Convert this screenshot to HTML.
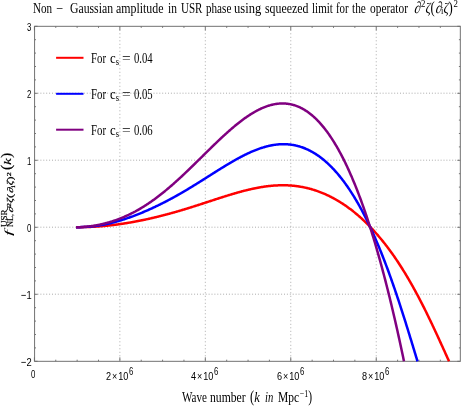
<!DOCTYPE html>
<html><head><meta charset="utf-8">
<style>
html,body{margin:0;padding:0;background:#fff;}
body{width:463px;height:409px;position:relative;overflow:hidden;font-family:"Liberation Serif",serif;color:#000;}
svg{position:absolute;left:0;top:0;}
.t{position:absolute;white-space:nowrap;line-height:1;transform-origin:0 0;}
.s{font-family:"Liberation Serif",serif;font-size:14.5px;}
.a{font-family:"Liberation Sans",sans-serif;font-size:11.7px;}
.a sup{font-size:10px;vertical-align:baseline;position:relative;top:-4.9px;margin-left:1px;}
i{font-style:italic;}
.s sup{font-size:10px;vertical-align:baseline;position:relative;top:-5.2px;margin-left:0.8px;}
.s sub{font-size:9.6px;vertical-align:baseline;position:relative;top:1.8px;}
.a .x{font-size:11.5px;margin:0 1.2px;position:relative;top:-0.2px;}
.yy{font-family:"Liberation Serif",serif;}
.yy .s2{font-size:0.72em;position:relative;top:-0.42em;}
.yy .s3{font-size:0.72em;position:relative;top:0.22em;}
.pr2{display:inline-block;transform:scaleY(1.2);transform-origin:50% 58%;}
.pd{display:inline-block;transform:scaleY(1.12) skewX(-10deg);transform-origin:50% 88%;}
.pd2{display:inline-block;transform:skewX(-10deg);transform-origin:50% 88%;}
.pr3{display:inline-block;transform:scaleY(1.12);transform-origin:50% 58%;}
.pr{display:inline-block;transform:scaleY(1.12);transform-origin:50% 55%;}
</style></head><body>
<svg width="463" height="409" viewBox="0 0 463 409">
<line x1="119.86" y1="26.3" x2="119.86" y2="361.3" stroke="#acacac" stroke-width="1" stroke-dasharray="1,2.5"/>
<line x1="205.32" y1="26.3" x2="205.32" y2="361.3" stroke="#acacac" stroke-width="1" stroke-dasharray="1,2.5"/>
<line x1="290.78" y1="26.3" x2="290.78" y2="361.3" stroke="#acacac" stroke-width="1" stroke-dasharray="1,2.5"/>
<line x1="376.24" y1="26.3" x2="376.24" y2="361.3" stroke="#acacac" stroke-width="1" stroke-dasharray="1,2.5"/>
<line x1="34.6" y1="93.20" x2="460.3" y2="93.20" stroke="#acacac" stroke-width="1" stroke-dasharray="1,1.9"/>
<line x1="34.6" y1="160.20" x2="460.3" y2="160.20" stroke="#acacac" stroke-width="1" stroke-dasharray="1,1.9"/>
<line x1="34.6" y1="227.20" x2="460.3" y2="227.20" stroke="#acacac" stroke-width="1" stroke-dasharray="1,1.9"/>
<line x1="34.6" y1="294.20" x2="460.3" y2="294.20" stroke="#acacac" stroke-width="1" stroke-dasharray="1,1.9"/>
<path d="M34.40,361.3 v-4.0 M34.40,26.3 v4.0 M55.77,361.3 v-1.6 M55.77,26.3 v1.6 M77.13,361.3 v-1.6 M77.13,26.3 v1.6 M98.50,361.3 v-1.6 M98.50,26.3 v1.6 M119.86,361.3 v-4.0 M119.86,26.3 v4.0 M141.22,361.3 v-1.6 M141.22,26.3 v1.6 M162.59,361.3 v-1.6 M162.59,26.3 v1.6 M183.95,361.3 v-1.6 M183.95,26.3 v1.6 M205.32,361.3 v-4.0 M205.32,26.3 v4.0 M226.69,361.3 v-1.6 M226.69,26.3 v1.6 M248.05,361.3 v-1.6 M248.05,26.3 v1.6 M269.41,361.3 v-1.6 M269.41,26.3 v1.6 M290.78,361.3 v-4.0 M290.78,26.3 v4.0 M312.14,361.3 v-1.6 M312.14,26.3 v1.6 M333.51,361.3 v-1.6 M333.51,26.3 v1.6 M354.87,361.3 v-1.6 M354.87,26.3 v1.6 M376.24,361.3 v-4.0 M376.24,26.3 v4.0 M397.60,361.3 v-1.6 M397.60,26.3 v1.6 M418.97,361.3 v-1.6 M418.97,26.3 v1.6 M440.33,361.3 v-1.6 M440.33,26.3 v1.6 M34.6,26.30 h3.0 M460.3,26.30 h-3.0 M34.6,39.70 h1.4 M460.3,39.70 h-1.4 M34.6,53.10 h1.4 M460.3,53.10 h-1.4 M34.6,66.50 h1.4 M460.3,66.50 h-1.4 M34.6,79.90 h1.4 M460.3,79.90 h-1.4 M34.6,93.30 h3.0 M460.3,93.30 h-3.0 M34.6,106.70 h1.4 M460.3,106.70 h-1.4 M34.6,120.10 h1.4 M460.3,120.10 h-1.4 M34.6,133.50 h1.4 M460.3,133.50 h-1.4 M34.6,146.90 h1.4 M460.3,146.90 h-1.4 M34.6,160.30 h3.0 M460.3,160.30 h-3.0 M34.6,173.70 h1.4 M460.3,173.70 h-1.4 M34.6,187.10 h1.4 M460.3,187.10 h-1.4 M34.6,200.50 h1.4 M460.3,200.50 h-1.4 M34.6,213.90 h1.4 M460.3,213.90 h-1.4 M34.6,227.30 h3.0 M460.3,227.30 h-3.0 M34.6,240.70 h1.4 M460.3,240.70 h-1.4 M34.6,254.10 h1.4 M460.3,254.10 h-1.4 M34.6,267.50 h1.4 M460.3,267.50 h-1.4 M34.6,280.90 h1.4 M460.3,280.90 h-1.4 M34.6,294.30 h3.0 M460.3,294.30 h-3.0 M34.6,307.70 h1.4 M460.3,307.70 h-1.4 M34.6,321.10 h1.4 M460.3,321.10 h-1.4 M34.6,334.50 h1.4 M460.3,334.50 h-1.4 M34.6,347.90 h1.4 M460.3,347.90 h-1.4 M34.6,361.30 h3.0 M460.3,361.30 h-3.0" stroke="#6a6a6a" stroke-width="0.9" fill="none"/>
<rect x="34.6" y="26.3" width="425.70" height="335.00" fill="none" stroke="#6a6a6a" stroke-width="0.95"/>
<path d="M75.98,227.20 L76.62,227.20 L77.26,227.20 L77.91,227.20 L78.55,227.19 L79.20,227.19 L79.84,227.18 L80.48,227.18 L81.13,227.17 L81.77,227.16 L82.42,227.15 L83.06,227.14 L83.70,227.12 L84.35,227.11 L84.99,227.09 L85.64,227.08 L86.28,227.06 L86.92,227.04 L87.57,227.02 L88.21,226.99 L88.86,226.97 L89.50,226.94 L90.14,226.92 L90.79,226.89 L91.43,226.86 L92.07,226.83 L92.72,226.80 L93.36,226.76 L94.01,226.73 L94.65,226.69 L95.29,226.65 L95.94,226.61 L96.58,226.57 L97.23,226.53 L97.87,226.48 L98.51,226.44 L99.16,226.39 L99.80,226.34 L100.45,226.29 L101.09,226.24 L101.73,226.18 L102.38,226.13 L103.02,226.07 L103.67,226.02 L104.31,225.96 L104.95,225.90 L105.60,225.84 L106.24,225.77 L106.89,225.71 L107.53,225.64 L108.17,225.57 L108.82,225.51 L109.46,225.44 L110.11,225.36 L110.75,225.29 L111.39,225.22 L112.04,225.14 L112.68,225.06 L113.33,224.99 L113.97,224.91 L114.61,224.83 L115.26,224.74 L115.90,224.66 L116.54,224.58 L117.19,224.49 L117.83,224.40 L118.48,224.31 L119.12,224.22 L119.76,224.13 L120.41,224.04 L121.05,223.95 L121.70,223.85 L122.34,223.76 L122.98,223.66 L123.63,223.56 L124.27,223.46 L124.92,223.36 L125.56,223.26 L126.20,223.15 L126.85,223.05 L127.49,222.94 L128.14,222.84 L128.78,222.73 L129.42,222.62 L130.07,222.51 L130.71,222.40 L131.36,222.28 L132.00,222.17 L132.64,222.06 L133.29,221.94 L133.93,221.82 L134.58,221.70 L135.22,221.58 L135.86,221.46 L136.51,221.34 L137.15,221.22 L137.80,221.09 L138.44,220.97 L139.08,220.84 L139.73,220.71 L140.37,220.59 L141.01,220.46 L141.66,220.33 L142.30,220.19 L142.95,220.06 L143.59,219.93 L144.23,219.79 L144.88,219.66 L145.52,219.52 L146.17,219.38 L146.81,219.24 L147.45,219.10 L148.10,218.96 L148.74,218.82 L149.39,218.67 L150.03,218.53 L150.67,218.38 L151.32,218.23 L151.96,218.09 L152.61,217.94 L153.25,217.79 L153.89,217.64 L154.54,217.48 L155.18,217.33 L155.83,217.18 L156.47,217.02 L157.11,216.87 L157.76,216.71 L158.40,216.55 L159.05,216.39 L159.69,216.23 L160.33,216.07 L160.98,215.91 L161.62,215.74 L162.27,215.58 L162.91,215.41 L163.55,215.25 L164.20,215.08 L164.84,214.91 L165.48,214.74 L166.13,214.57 L166.77,214.40 L167.42,214.23 L168.06,214.05 L168.70,213.88 L169.35,213.70 L169.99,213.53 L170.64,213.35 L171.28,213.17 L171.92,212.99 L172.57,212.81 L173.21,212.63 L173.86,212.45 L174.50,212.27 L175.14,212.09 L175.79,211.90 L176.43,211.72 L177.08,211.53 L177.72,211.34 L178.36,211.16 L179.01,210.97 L179.65,210.78 L180.30,210.59 L180.94,210.40 L181.58,210.20 L182.23,210.01 L182.87,209.82 L183.52,209.62 L184.16,209.43 L184.80,209.23 L185.45,209.04 L186.09,208.84 L186.74,208.64 L187.38,208.44 L188.02,208.25 L188.67,208.05 L189.31,207.85 L189.95,207.64 L190.60,207.44 L191.24,207.24 L191.89,207.04 L192.53,206.83 L193.17,206.63 L193.82,206.43 L194.46,206.22 L195.11,206.02 L195.75,205.81 L196.39,205.60 L197.04,205.40 L197.68,205.19 L198.33,204.98 L198.97,204.77 L199.61,204.57 L200.26,204.36 L200.90,204.15 L201.55,203.94 L202.19,203.73 L202.83,203.52 L203.48,203.31 L204.12,203.10 L204.77,202.89 L205.41,202.68 L206.05,202.47 L206.70,202.26 L207.34,202.05 L207.99,201.84 L208.63,201.63 L209.27,201.42 L209.92,201.20 L210.56,200.99 L211.20,200.78 L211.85,200.57 L212.49,200.36 L213.14,200.15 L213.78,199.94 L214.42,199.73 L215.07,199.52 L215.71,199.31 L216.36,199.10 L217.00,198.89 L217.64,198.69 L218.29,198.48 L218.93,198.27 L219.58,198.06 L220.22,197.86 L220.86,197.65 L221.51,197.44 L222.15,197.24 L222.80,197.03 L223.44,196.83 L224.08,196.63 L224.73,196.42 L225.37,196.22 L226.02,196.02 L226.66,195.82 L227.30,195.62 L227.95,195.42 L228.59,195.22 L229.24,195.03 L229.88,194.83 L230.52,194.64 L231.17,194.44 L231.81,194.25 L232.46,194.06 L233.10,193.87 L233.74,193.68 L234.39,193.49 L235.03,193.30 L235.67,193.12 L236.32,192.93 L236.96,192.75 L237.61,192.57 L238.25,192.38 L238.89,192.21 L239.54,192.03 L240.18,191.85 L240.83,191.68 L241.47,191.50 L242.11,191.33 L242.76,191.16 L243.40,190.99 L244.05,190.83 L244.69,190.66 L245.33,190.50 L245.98,190.34 L246.62,190.18 L247.27,190.02 L247.91,189.87 L248.55,189.71 L249.20,189.56 L249.84,189.41 L250.49,189.26 L251.13,189.12 L251.77,188.98 L252.42,188.83 L253.06,188.70 L253.71,188.56 L254.35,188.42 L254.99,188.29 L255.64,188.16 L256.28,188.04 L256.93,187.91 L257.57,187.79 L258.21,187.67 L258.86,187.55 L259.50,187.43 L260.14,187.32 L260.79,187.21 L261.43,187.11 L262.08,187.00 L262.72,186.90 L263.36,186.80 L264.01,186.70 L264.65,186.61 L265.30,186.52 L265.94,186.43 L266.58,186.35 L267.23,186.26 L267.87,186.19 L268.52,186.11 L269.16,186.04 L269.80,185.97 L270.45,185.90 L271.09,185.84 L271.74,185.78 L272.38,185.72 L273.02,185.66 L273.67,185.61 L274.31,185.56 L274.96,185.52 L275.60,185.48 L276.24,185.44 L276.89,185.41 L277.53,185.38 L278.18,185.35 L278.82,185.32 L279.46,185.30 L280.11,185.29 L280.75,185.27 L281.40,185.26 L282.04,185.26 L282.68,185.25 L283.33,185.26 L283.97,185.26 L284.61,185.27 L285.26,185.28 L285.90,185.30 L286.55,185.32 L287.19,185.34 L287.83,185.37 L288.48,185.40 L289.12,185.43 L289.77,185.47 L290.41,185.51 L291.05,185.56 L291.70,185.61 L292.34,185.67 L292.99,185.72 L293.63,185.79 L294.27,185.85 L294.92,185.92 L295.56,186.00 L296.21,186.08 L296.85,186.16 L297.49,186.25 L298.14,186.34 L298.78,186.44 L299.43,186.54 L300.07,186.64 L300.71,186.75 L301.36,186.86 L302.00,186.98 L302.65,187.10 L303.29,187.22 L303.93,187.35 L304.58,187.49 L305.22,187.63 L305.87,187.77 L306.51,187.92 L307.15,188.07 L307.80,188.23 L308.44,188.39 L309.08,188.55 L309.73,188.72 L310.37,188.89 L311.02,189.07 L311.66,189.26 L312.30,189.44 L312.95,189.64 L313.59,189.83 L314.24,190.03 L314.88,190.24 L315.52,190.45 L316.17,190.67 L316.81,190.89 L317.46,191.11 L318.10,191.34 L318.74,191.58 L319.39,191.81 L320.03,192.06 L320.68,192.31 L321.32,192.56 L321.96,192.82 L322.61,193.08 L323.25,193.35 L323.90,193.62 L324.54,193.90 L325.18,194.18 L325.83,194.46 L326.47,194.76 L327.12,195.05 L327.76,195.35 L328.40,195.66 L329.05,195.97 L329.69,196.29 L330.33,196.61 L330.98,196.94 L331.62,197.27 L332.27,197.60 L332.91,197.94 L333.55,198.29 L334.20,198.64 L334.84,199.00 L335.49,199.36 L336.13,199.73 L336.77,200.10 L337.42,200.47 L338.06,200.86 L338.71,201.24 L339.35,201.64 L339.99,202.03 L340.64,202.44 L341.28,202.84 L341.93,203.26 L342.57,203.67 L343.21,204.10 L343.86,204.53 L344.50,204.96 L345.15,205.40 L345.79,205.85 L346.43,206.30 L347.08,206.75 L347.72,207.21 L348.37,207.68 L349.01,208.15 L349.65,208.63 L350.30,209.11 L350.94,209.60 L351.59,210.10 L352.23,210.60 L352.87,211.10 L353.52,211.61 L354.16,212.13 L354.80,212.65 L355.45,213.18 L356.09,213.71 L356.74,214.25 L357.38,214.80 L358.02,215.35 L358.67,215.90 L359.31,216.47 L359.96,217.03 L360.60,217.61 L361.24,218.19 L361.89,218.77 L362.53,219.37 L363.18,219.96 L363.82,220.57 L364.46,221.18 L365.11,221.79 L365.75,222.42 L366.40,223.04 L367.04,223.68 L367.68,224.32 L368.33,224.97 L368.97,225.62 L369.62,226.28 L370.26,226.94 L370.90,227.62 L371.55,228.30 L372.19,228.98 L372.84,229.67 L373.48,230.37 L374.12,231.07 L374.77,231.78 L375.41,232.50 L376.06,233.23 L376.70,233.96 L377.34,234.69 L377.99,235.44 L378.63,236.19 L379.27,236.95 L379.92,237.71 L380.56,238.48 L381.21,239.26 L381.85,240.05 L382.49,240.84 L383.14,241.64 L383.78,242.44 L384.43,243.26 L385.07,244.08 L385.71,244.90 L386.36,245.74 L387.00,246.58 L387.65,247.43 L388.29,248.29 L388.93,249.15 L389.58,250.02 L390.22,250.90 L390.87,251.78 L391.51,252.68 L392.15,253.58 L392.80,254.49 L393.44,255.40 L394.09,256.32 L394.73,257.25 L395.37,258.19 L396.02,259.14 L396.66,260.09 L397.31,261.05 L397.95,262.02 L398.59,263.00 L399.24,263.98 L399.88,264.97 L400.53,265.97 L401.17,266.98 L401.81,268.00 L402.46,269.02 L403.10,270.05 L403.74,271.09 L404.39,272.14 L405.03,273.19 L405.68,274.25 L406.32,275.32 L406.96,276.40 L407.61,277.49 L408.25,278.58 L408.90,279.68 L409.54,280.79 L410.18,281.91 L410.83,283.04 L411.47,284.17 L412.12,285.31 L412.76,286.46 L413.40,287.62 L414.05,288.78 L414.69,289.95 L415.34,291.13 L415.98,292.32 L416.62,293.51 L417.27,294.72 L417.91,295.93 L418.56,297.15 L419.20,298.37 L419.84,299.60 L420.49,300.84 L421.13,302.09 L421.78,303.35 L422.42,304.61 L423.06,305.88 L423.71,307.15 L424.35,308.43 L425.00,309.72 L425.64,311.02 L426.28,312.32 L426.93,313.63 L427.57,314.95 L428.21,316.27 L428.86,317.60 L429.50,318.93 L430.15,320.27 L430.79,321.62 L431.43,322.97 L432.08,324.32 L432.72,325.69 L433.37,327.05 L434.01,328.42 L434.65,329.80 L435.30,331.18 L435.94,332.57 L436.59,333.96 L437.23,335.35 L437.87,336.75 L438.52,338.15 L439.16,339.55 L439.81,340.96 L440.45,342.36 L441.09,343.78 L441.74,345.19 L442.38,346.60 L443.03,348.02 L443.67,349.44 L444.31,350.86 L444.96,352.27 L445.60,353.69 L446.25,355.11 L446.89,356.53 L447.53,357.95 L448.18,359.36 L448.82,360.78 L449.06,361.30" stroke="#ff0000" stroke-width="2.5" fill="none" stroke-linejoin="round"/>
<path d="M75.98,227.20 L76.62,227.20 L77.26,227.20 L77.91,227.19 L78.55,227.18 L79.20,227.18 L79.84,227.16 L80.48,227.15 L81.13,227.13 L81.77,227.11 L82.42,227.09 L83.06,227.07 L83.70,227.04 L84.35,227.01 L84.99,226.98 L85.64,226.94 L86.28,226.90 L86.92,226.86 L87.57,226.82 L88.21,226.77 L88.86,226.72 L89.50,226.66 L90.14,226.61 L90.79,226.55 L91.43,226.48 L92.07,226.41 L92.72,226.34 L93.36,226.27 L94.01,226.19 L94.65,226.12 L95.29,226.03 L95.94,225.95 L96.58,225.86 L97.23,225.76 L97.87,225.67 L98.51,225.57 L99.16,225.47 L99.80,225.36 L100.45,225.25 L101.09,225.14 L101.73,225.03 L102.38,224.91 L103.02,224.79 L103.67,224.67 L104.31,224.54 L104.95,224.41 L105.60,224.28 L106.24,224.14 L106.89,224.00 L107.53,223.86 L108.17,223.72 L108.82,223.57 L109.46,223.42 L110.11,223.27 L110.75,223.11 L111.39,222.95 L112.04,222.79 L112.68,222.63 L113.33,222.46 L113.97,222.29 L114.61,222.12 L115.26,221.95 L115.90,221.77 L116.54,221.59 L117.19,221.41 L117.83,221.22 L118.48,221.03 L119.12,220.84 L119.76,220.65 L120.41,220.46 L121.05,220.26 L121.70,220.06 L122.34,219.86 L122.98,219.65 L123.63,219.45 L124.27,219.24 L124.92,219.03 L125.56,218.82 L126.20,218.60 L126.85,218.38 L127.49,218.16 L128.14,217.94 L128.78,217.72 L129.42,217.49 L130.07,217.26 L130.71,217.03 L131.36,216.80 L132.00,216.56 L132.64,216.32 L133.29,216.09 L133.93,215.84 L134.58,215.60 L135.22,215.36 L135.86,215.11 L136.51,214.86 L137.15,214.61 L137.80,214.36 L138.44,214.10 L139.08,213.84 L139.73,213.58 L140.37,213.32 L141.01,213.06 L141.66,212.80 L142.30,212.53 L142.95,212.26 L143.59,211.99 L144.23,211.72 L144.88,211.44 L145.52,211.17 L146.17,210.89 L146.81,210.61 L147.45,210.33 L148.10,210.04 L148.74,209.76 L149.39,209.47 L150.03,209.18 L150.67,208.89 L151.32,208.60 L151.96,208.30 L152.61,208.00 L153.25,207.71 L153.89,207.41 L154.54,207.10 L155.18,206.80 L155.83,206.49 L156.47,206.19 L157.11,205.88 L157.76,205.57 L158.40,205.25 L159.05,204.94 L159.69,204.62 L160.33,204.30 L160.98,203.98 L161.62,203.66 L162.27,203.34 L162.91,203.01 L163.55,202.69 L164.20,202.36 L164.84,202.03 L165.48,201.70 L166.13,201.36 L166.77,201.03 L167.42,200.69 L168.06,200.35 L168.70,200.01 L169.35,199.67 L169.99,199.32 L170.64,198.98 L171.28,198.63 L171.92,198.28 L172.57,197.93 L173.21,197.58 L173.86,197.22 L174.50,196.87 L175.14,196.51 L175.79,196.15 L176.43,195.79 L177.08,195.43 L177.72,195.07 L178.36,194.70 L179.01,194.34 L179.65,193.97 L180.30,193.60 L180.94,193.23 L181.58,192.86 L182.23,192.48 L182.87,192.11 L183.52,191.73 L184.16,191.35 L184.80,190.97 L185.45,190.59 L186.09,190.21 L186.74,189.83 L187.38,189.45 L188.02,189.06 L188.67,188.67 L189.31,188.29 L189.95,187.90 L190.60,187.51 L191.24,187.11 L191.89,186.72 L192.53,186.33 L193.17,185.93 L193.82,185.54 L194.46,185.14 L195.11,184.75 L195.75,184.35 L196.39,183.95 L197.04,183.55 L197.68,183.15 L198.33,182.75 L198.97,182.35 L199.61,181.94 L200.26,181.54 L200.90,181.14 L201.55,180.73 L202.19,180.33 L202.83,179.92 L203.48,179.51 L204.12,179.11 L204.77,178.70 L205.41,178.29 L206.05,177.89 L206.70,177.48 L207.34,177.07 L207.99,176.66 L208.63,176.26 L209.27,175.85 L209.92,175.44 L210.56,175.03 L211.20,174.62 L211.85,174.22 L212.49,173.81 L213.14,173.40 L213.78,173.00 L214.42,172.59 L215.07,172.18 L215.71,171.78 L216.36,171.37 L217.00,170.97 L217.64,170.56 L218.29,170.16 L218.93,169.76 L219.58,169.36 L220.22,168.96 L220.86,168.56 L221.51,168.16 L222.15,167.76 L222.80,167.36 L223.44,166.97 L224.08,166.57 L224.73,166.18 L225.37,165.79 L226.02,165.40 L226.66,165.01 L227.30,164.62 L227.95,164.23 L228.59,163.85 L229.24,163.47 L229.88,163.09 L230.52,162.71 L231.17,162.33 L231.81,161.96 L232.46,161.58 L233.10,161.21 L233.74,160.84 L234.39,160.48 L235.03,160.11 L235.67,159.75 L236.32,159.39 L236.96,159.03 L237.61,158.68 L238.25,158.33 L238.89,157.98 L239.54,157.63 L240.18,157.29 L240.83,156.95 L241.47,156.61 L242.11,156.28 L242.76,155.94 L243.40,155.62 L244.05,155.29 L244.69,154.97 L245.33,154.65 L245.98,154.34 L246.62,154.02 L247.27,153.72 L247.91,153.41 L248.55,153.11 L249.20,152.81 L249.84,152.52 L250.49,152.23 L251.13,151.95 L251.77,151.67 L252.42,151.39 L253.06,151.12 L253.71,150.85 L254.35,150.58 L254.99,150.32 L255.64,150.07 L256.28,149.82 L256.93,149.57 L257.57,149.33 L258.21,149.09 L258.86,148.86 L259.50,148.63 L260.14,148.41 L260.79,148.19 L261.43,147.98 L262.08,147.77 L262.72,147.57 L263.36,147.37 L264.01,147.18 L264.65,146.99 L265.30,146.81 L265.94,146.64 L266.58,146.47 L267.23,146.30 L267.87,146.14 L268.52,145.99 L269.16,145.84 L269.80,145.70 L270.45,145.57 L271.09,145.44 L271.74,145.31 L272.38,145.20 L273.02,145.08 L273.67,144.98 L274.31,144.88 L274.96,144.79 L275.60,144.70 L276.24,144.62 L276.89,144.55 L277.53,144.48 L278.18,144.42 L278.82,144.37 L279.46,144.32 L280.11,144.28 L280.75,144.25 L281.40,144.22 L282.04,144.20 L282.68,144.19 L283.33,144.18 L283.97,144.18 L284.61,144.19 L285.26,144.21 L285.90,144.23 L286.55,144.26 L287.19,144.30 L287.83,144.35 L288.48,144.40 L289.12,144.46 L289.77,144.53 L290.41,144.60 L291.05,144.68 L291.70,144.77 L292.34,144.87 L292.99,144.98 L293.63,145.09 L294.27,145.21 L294.92,145.34 L295.56,145.48 L296.21,145.62 L296.85,145.78 L297.49,145.94 L298.14,146.11 L298.78,146.29 L299.43,146.47 L300.07,146.67 L300.71,146.87 L301.36,147.08 L302.00,147.30 L302.65,147.53 L303.29,147.76 L303.93,148.01 L304.58,148.26 L305.22,148.52 L305.87,148.79 L306.51,149.07 L307.15,149.36 L307.80,149.66 L308.44,149.96 L309.08,150.28 L309.73,150.60 L310.37,150.93 L311.02,151.28 L311.66,151.63 L312.30,151.99 L312.95,152.35 L313.59,152.73 L314.24,153.12 L314.88,153.52 L315.52,153.92 L316.17,154.34 L316.81,154.76 L317.46,155.19 L318.10,155.64 L318.74,156.09 L319.39,156.55 L320.03,157.02 L320.68,157.50 L321.32,157.99 L321.96,158.50 L322.61,159.01 L323.25,159.53 L323.90,160.06 L324.54,160.60 L325.18,161.15 L325.83,161.71 L326.47,162.28 L327.12,162.86 L327.76,163.45 L328.40,164.05 L329.05,164.66 L329.69,165.28 L330.33,165.91 L330.98,166.55 L331.62,167.20 L332.27,167.86 L332.91,168.54 L333.55,169.22 L334.20,169.91 L334.84,170.62 L335.49,171.33 L336.13,172.06 L336.77,172.79 L337.42,173.54 L338.06,174.30 L338.71,175.07 L339.35,175.85 L339.99,176.64 L340.64,177.44 L341.28,178.25 L341.93,179.08 L342.57,179.91 L343.21,180.76 L343.86,181.62 L344.50,182.49 L345.15,183.37 L345.79,184.26 L346.43,185.17 L347.08,186.08 L347.72,187.01 L348.37,187.95 L349.01,188.90 L349.65,189.86 L350.30,190.84 L350.94,191.83 L351.59,192.82 L352.23,193.83 L352.87,194.86 L353.52,195.89 L354.16,196.94 L354.80,198.00 L355.45,199.07 L356.09,200.15 L356.74,201.25 L357.38,202.36 L358.02,203.48 L358.67,204.61 L359.31,205.76 L359.96,206.92 L360.60,208.09 L361.24,209.28 L361.89,210.47 L362.53,211.69 L363.18,212.91 L363.82,214.15 L364.46,215.39 L365.11,216.66 L365.75,217.93 L366.40,219.22 L367.04,220.52 L367.68,221.84 L368.33,223.17 L368.97,224.51 L369.62,225.86 L370.26,227.23 L370.90,228.61 L371.55,230.01 L372.19,231.42 L372.84,232.84 L373.48,234.28 L374.12,235.73 L374.77,237.19 L375.41,238.66 L376.06,240.15 L376.70,241.66 L377.34,243.18 L377.99,244.71 L378.63,246.25 L379.27,247.81 L379.92,249.38 L380.56,250.97 L381.21,252.57 L381.85,254.18 L382.49,255.80 L383.14,257.44 L383.78,259.10 L384.43,260.76 L385.07,262.44 L385.71,264.14 L386.36,265.84 L387.00,267.56 L387.65,269.30 L388.29,271.04 L388.93,272.80 L389.58,274.58 L390.22,276.36 L390.87,278.16 L391.51,279.97 L392.15,281.79 L392.80,283.63 L393.44,285.48 L394.09,287.34 L394.73,289.21 L395.37,291.10 L396.02,292.99 L396.66,294.90 L397.31,296.82 L397.95,298.75 L398.59,300.70 L399.24,302.65 L399.88,304.61 L400.53,306.59 L401.17,308.57 L401.81,310.57 L402.46,312.57 L403.10,314.58 L403.74,316.61 L404.39,318.64 L405.03,320.68 L405.68,322.73 L406.32,324.79 L406.96,326.85 L407.61,328.92 L408.25,331.00 L408.90,333.08 L409.54,335.17 L410.18,337.27 L410.83,339.37 L411.47,341.48 L412.12,343.59 L412.76,345.70 L413.40,347.82 L414.05,349.94 L414.69,352.06 L415.34,354.18 L415.98,356.31 L416.62,358.43 L417.27,360.55 L417.49,361.30" stroke="#0000ff" stroke-width="2.5" fill="none" stroke-linejoin="round"/>
<path d="M75.98,227.20 L76.62,227.20 L77.26,227.19 L77.91,227.18 L78.55,227.17 L79.20,227.15 L79.84,227.13 L80.48,227.10 L81.13,227.07 L81.77,227.04 L82.42,227.00 L83.06,226.96 L83.70,226.91 L84.35,226.86 L84.99,226.81 L85.64,226.75 L86.28,226.69 L86.92,226.63 L87.57,226.56 L88.21,226.49 L88.86,226.42 L89.50,226.34 L90.14,226.26 L90.79,226.17 L91.43,226.08 L92.07,225.99 L92.72,225.90 L93.36,225.80 L94.01,225.69 L94.65,225.59 L95.29,225.48 L95.94,225.37 L96.58,225.25 L97.23,225.13 L97.87,225.01 L98.51,224.88 L99.16,224.75 L99.80,224.61 L100.45,224.48 L101.09,224.34 L101.73,224.19 L102.38,224.04 L103.02,223.89 L103.67,223.74 L104.31,223.58 L104.95,223.42 L105.60,223.25 L106.24,223.08 L106.89,222.91 L107.53,222.73 L108.17,222.55 L108.82,222.37 L109.46,222.18 L110.11,221.99 L110.75,221.79 L111.39,221.59 L112.04,221.39 L112.68,221.18 L113.33,220.97 L113.97,220.76 L114.61,220.54 L115.26,220.32 L115.90,220.09 L116.54,219.86 L117.19,219.63 L117.83,219.39 L118.48,219.15 L119.12,218.91 L119.76,218.66 L120.41,218.40 L121.05,218.15 L121.70,217.89 L122.34,217.62 L122.98,217.35 L123.63,217.08 L124.27,216.80 L124.92,216.52 L125.56,216.24 L126.20,215.95 L126.85,215.66 L127.49,215.36 L128.14,215.06 L128.78,214.75 L129.42,214.44 L130.07,214.13 L130.71,213.81 L131.36,213.49 L132.00,213.17 L132.64,212.84 L133.29,212.50 L133.93,212.16 L134.58,211.82 L135.22,211.48 L135.86,211.12 L136.51,210.77 L137.15,210.41 L137.80,210.05 L138.44,209.68 L139.08,209.31 L139.73,208.94 L140.37,208.56 L141.01,208.17 L141.66,207.78 L142.30,207.39 L142.95,207.00 L143.59,206.60 L144.23,206.19 L144.88,205.78 L145.52,205.37 L146.17,204.96 L146.81,204.54 L147.45,204.11 L148.10,203.68 L148.74,203.25 L149.39,202.81 L150.03,202.37 L150.67,201.93 L151.32,201.48 L151.96,201.03 L152.61,200.57 L153.25,200.11 L153.89,199.65 L154.54,199.18 L155.18,198.71 L155.83,198.23 L156.47,197.75 L157.11,197.27 L157.76,196.78 L158.40,196.29 L159.05,195.80 L159.69,195.30 L160.33,194.80 L160.98,194.30 L161.62,193.79 L162.27,193.28 L162.91,192.76 L163.55,192.24 L164.20,191.72 L164.84,191.19 L165.48,190.66 L166.13,190.13 L166.77,189.60 L167.42,189.06 L168.06,188.51 L168.70,187.97 L169.35,187.42 L169.99,186.87 L170.64,186.31 L171.28,185.76 L171.92,185.20 L172.57,184.63 L173.21,184.07 L173.86,183.50 L174.50,182.93 L175.14,182.35 L175.79,181.77 L176.43,181.19 L177.08,180.61 L177.72,180.03 L178.36,179.44 L179.01,178.85 L179.65,178.26 L180.30,177.66 L180.94,177.07 L181.58,176.47 L182.23,175.87 L182.87,175.26 L183.52,174.66 L184.16,174.05 L184.80,173.44 L185.45,172.83 L186.09,172.22 L186.74,171.61 L187.38,170.99 L188.02,170.37 L188.67,169.75 L189.31,169.13 L189.95,168.51 L190.60,167.89 L191.24,167.26 L191.89,166.64 L192.53,166.01 L193.17,165.38 L193.82,164.75 L194.46,164.12 L195.11,163.49 L195.75,162.86 L196.39,162.23 L197.04,161.59 L197.68,160.96 L198.33,160.33 L198.97,159.69 L199.61,159.06 L200.26,158.42 L200.90,157.79 L201.55,157.15 L202.19,156.52 L202.83,155.88 L203.48,155.24 L204.12,154.61 L204.77,153.97 L205.41,153.34 L206.05,152.70 L206.70,152.07 L207.34,151.44 L207.99,150.80 L208.63,150.17 L209.27,149.54 L209.92,148.91 L210.56,148.28 L211.20,147.65 L211.85,147.02 L212.49,146.39 L213.14,145.77 L213.78,145.14 L214.42,144.52 L215.07,143.90 L215.71,143.28 L216.36,142.66 L217.00,142.05 L217.64,141.43 L218.29,140.82 L218.93,140.21 L219.58,139.60 L220.22,138.99 L220.86,138.39 L221.51,137.79 L222.15,137.19 L222.80,136.59 L223.44,135.99 L224.08,135.40 L224.73,134.81 L225.37,134.23 L226.02,133.64 L226.66,133.06 L227.30,132.48 L227.95,131.91 L228.59,131.34 L229.24,130.77 L229.88,130.21 L230.52,129.64 L231.17,129.09 L231.81,128.53 L232.46,127.98 L233.10,127.44 L233.74,126.89 L234.39,126.35 L235.03,125.82 L235.67,125.29 L236.32,124.76 L236.96,124.24 L237.61,123.72 L238.25,123.21 L238.89,122.70 L239.54,122.20 L240.18,121.70 L240.83,121.21 L241.47,120.72 L242.11,120.23 L242.76,119.75 L243.40,119.28 L244.05,118.81 L244.69,118.35 L245.33,117.89 L245.98,117.44 L246.62,116.99 L247.27,116.55 L247.91,116.11 L248.55,115.69 L249.20,115.26 L249.84,114.84 L250.49,114.43 L251.13,114.03 L251.77,113.63 L252.42,113.24 L253.06,112.85 L253.71,112.47 L254.35,112.10 L254.99,111.73 L255.64,111.37 L256.28,111.02 L256.93,110.67 L257.57,110.33 L258.21,110.00 L258.86,109.68 L259.50,109.36 L260.14,109.05 L260.79,108.75 L261.43,108.45 L262.08,108.17 L262.72,107.89 L263.36,107.61 L264.01,107.35 L264.65,107.09 L265.30,106.85 L265.94,106.61 L266.58,106.37 L267.23,106.15 L267.87,105.93 L268.52,105.73 L269.16,105.53 L269.80,105.34 L270.45,105.16 L271.09,104.98 L271.74,104.82 L272.38,104.67 L273.02,104.52 L273.67,104.38 L274.31,104.25 L274.96,104.14 L275.60,104.03 L276.24,103.93 L276.89,103.84 L277.53,103.75 L278.18,103.68 L278.82,103.62 L279.46,103.57 L280.11,103.53 L280.75,103.49 L281.40,103.47 L282.04,103.46 L282.68,103.46 L283.33,103.46 L283.97,103.48 L284.61,103.51 L285.26,103.55 L285.90,103.60 L286.55,103.66 L287.19,103.73 L287.83,103.81 L288.48,103.90 L289.12,104.00 L289.77,104.12 L290.41,104.24 L291.05,104.38 L291.70,104.53 L292.34,104.68 L292.99,104.85 L293.63,105.03 L294.27,105.23 L294.92,105.43 L295.56,105.65 L296.21,105.87 L296.85,106.11 L297.49,106.36 L298.14,106.62 L298.78,106.90 L299.43,107.19 L300.07,107.48 L300.71,107.79 L301.36,108.12 L302.00,108.45 L302.65,108.80 L303.29,109.16 L303.93,109.53 L304.58,109.92 L305.22,110.32 L305.87,110.73 L306.51,111.15 L307.15,111.59 L307.80,112.03 L308.44,112.50 L309.08,112.97 L309.73,113.46 L310.37,113.96 L311.02,114.48 L311.66,115.00 L312.30,115.55 L312.95,116.10 L313.59,116.67 L314.24,117.25 L314.88,117.85 L315.52,118.46 L316.17,119.08 L316.81,119.72 L317.46,120.37 L318.10,121.03 L318.74,121.71 L319.39,122.41 L320.03,123.11 L320.68,123.84 L321.32,124.57 L321.96,125.32 L322.61,126.09 L323.25,126.87 L323.90,127.66 L324.54,128.47 L325.18,129.30 L325.83,130.14 L326.47,130.99 L327.12,131.86 L327.76,132.74 L328.40,133.64 L329.05,134.56 L329.69,135.48 L330.33,136.43 L330.98,137.39 L331.62,138.36 L332.27,139.36 L332.91,140.36 L333.55,141.38 L334.20,142.42 L334.84,143.48 L335.49,144.55 L336.13,145.63 L336.77,146.73 L337.42,147.85 L338.06,148.98 L338.71,150.13 L339.35,151.30 L339.99,152.48 L340.64,153.68 L341.28,154.89 L341.93,156.12 L342.57,157.37 L343.21,158.64 L343.86,159.92 L344.50,161.22 L345.15,162.53 L345.79,163.86 L346.43,165.21 L347.08,166.58 L347.72,167.96 L348.37,169.36 L349.01,170.78 L349.65,172.21 L350.30,173.66 L350.94,175.13 L351.59,176.62 L352.23,178.12 L352.87,179.64 L353.52,181.18 L354.16,182.74 L354.80,184.31 L355.45,185.90 L356.09,187.51 L356.74,189.14 L357.38,190.79 L358.02,192.45 L358.67,194.14 L359.31,195.84 L359.96,197.56 L360.60,199.29 L361.24,201.05 L361.89,202.82 L362.53,204.61 L363.18,206.43 L363.82,208.25 L364.46,210.10 L365.11,211.97 L365.75,213.86 L366.40,215.76 L367.04,217.68 L367.68,219.63 L368.33,221.59 L368.97,223.57 L369.62,225.57 L370.26,227.59 L370.90,229.62 L371.55,231.68 L372.19,233.76 L372.84,235.86 L373.48,237.97 L374.12,240.11 L374.77,242.26 L375.41,244.43 L376.06,246.63 L376.70,248.84 L377.34,251.08 L377.99,253.33 L378.63,255.60 L379.27,257.89 L379.92,260.21 L380.56,262.54 L381.21,264.89 L381.85,267.27 L382.49,269.66 L383.14,272.07 L383.78,274.51 L384.43,276.96 L385.07,279.43 L385.71,281.93 L386.36,284.44 L387.00,286.98 L387.65,289.53 L388.29,292.11 L388.93,294.70 L389.58,297.32 L390.22,299.96 L390.87,302.62 L391.51,305.30 L392.15,307.99 L392.80,310.71 L393.44,313.46 L394.09,316.22 L394.73,319.00 L395.37,321.80 L396.02,324.63 L396.66,327.47 L397.31,330.34 L397.95,333.22 L398.59,336.13 L399.24,339.06 L399.88,342.00 L400.53,344.97 L401.17,347.97 L401.81,350.98 L402.46,354.01 L403.10,357.06 L403.74,360.14 L403.99,361.30" stroke="#800080" stroke-width="2.5" fill="none" stroke-linejoin="round"/>
<line x1="56.1" y1="57.8" x2="83.5" y2="57.8" stroke="#ff0000" stroke-width="2"/>
<line x1="56.1" y1="93.8" x2="83.5" y2="93.8" stroke="#0000ff" stroke-width="2"/>
<line x1="56.1" y1="129.7" x2="83.5" y2="129.7" stroke="#800080" stroke-width="2"/>
</svg>
<div id="tx" style="position:absolute;left:0;top:0;width:463px;height:409px;will-change:transform;">
<span id="t0" class="t s" style="left:33.10px;top:0.66px;transform:scaleX(0.7680)">Non</span>
<span id="t1" class="t s" style="left:69.50px;top:0.66px;transform:scaleX(0.8094)">Gaussian</span>
<span id="t2" class="t s" style="left:116.00px;top:0.66px;transform:scaleX(0.8190)">amplitude</span>
<span id="t3" class="t s" style="left:167.90px;top:0.66px;transform:scaleX(0.7909)">in</span>
<span id="t4" class="t s" style="left:180.90px;top:0.66px;transform:scaleX(0.7607)">USR</span>
<span id="t5" class="t s" style="left:205.90px;top:0.66px;transform:scaleX(0.7667)">phase</span>
<span id="t6" class="t s" style="left:234.40px;top:0.66px;transform:scaleX(0.8645)">using</span>
<span id="t7" class="t s" style="left:264.80px;top:0.66px;transform:scaleX(0.8151)">squeezed</span>
<span id="t8" class="t s" style="left:311.80px;top:0.66px;transform:scaleX(0.7630)">limit</span>
<span id="t9" class="t s" style="left:336.10px;top:0.66px;transform:scaleX(0.7471)">for</span>
<span id="t10" class="t s" style="left:352.00px;top:0.66px;transform:scaleX(0.7778)">the</span>
<span id="t11" class="t s" style="left:370.40px;top:0.66px;transform:scaleX(0.7854)">operator</span>
<span id="t12" class="t s" style="left:56.00px;top:0.66px;transform:scaleX(0.8500)">&#8722;</span>
<span id="t13" class="t s" style="left:413.60px;top:0.66px;transform:scaleX(0.8780)"><i class="pd">&#8706;</i><sup>2</sup><i>&#950;</i><span class="pr">(</span><i class="pd">&#8706;</i><sub>i</sub><i>&#950;</i><span class="pr">)</span><sup>2</sup></span>
<span id="t14" class="t s" style="left:91.30px;top:50.86px;transform:scaleX(0.7450)">For</span>
<span id="t15" class="t s" style="left:110.30px;top:50.86px;transform:scaleX(0.8800)">c<sub>s</sub></span>
<span id="t16" class="t s" style="left:121.90px;top:50.86px;transform:scaleX(1.0625)">=</span>
<span id="t17" class="t s" style="left:134.00px;top:50.86px;transform:scaleX(0.7360)">0.04</span>
<span id="t18" class="t s" style="left:91.30px;top:86.86px;transform:scaleX(0.7450)">For</span>
<span id="t19" class="t s" style="left:110.30px;top:86.86px;transform:scaleX(0.8800)">c<sub>s</sub></span>
<span id="t20" class="t s" style="left:121.90px;top:86.86px;transform:scaleX(1.0625)">=</span>
<span id="t21" class="t s" style="left:134.00px;top:86.86px;transform:scaleX(0.7360)">0.05</span>
<span id="t22" class="t s" style="left:91.30px;top:122.76px;transform:scaleX(0.7450)">For</span>
<span id="t23" class="t s" style="left:110.30px;top:122.76px;transform:scaleX(0.8800)">c<sub>s</sub></span>
<span id="t24" class="t s" style="left:121.90px;top:122.76px;transform:scaleX(1.0625)">=</span>
<span id="t25" class="t s" style="left:134.00px;top:122.76px;transform:scaleX(0.7360)">0.06</span>
<span id="t26" class="t s" style="left:181.90px;top:390.06px;transform:scaleX(0.7606)">Wave</span>
<span id="t27" class="t s" style="left:210.40px;top:390.06px;transform:scaleX(0.8045)">number</span>
<span id="t28" class="t s" style="left:250.20px;top:390.06px;transform:scaleX(0.8636)"><span class="pr">(</span><i>k</i></span>
<span id="t29" class="t s" style="left:264.50px;top:390.06px;transform:scaleX(0.7364)"><i>in</i></span>
<span id="t30" class="t s" style="left:277.80px;top:390.06px;transform:scaleX(0.7953)">Mpc<sup>&#8722;1</sup><span class="pr">)</span></span>
<span id="t31" class="t a" style="left:26.50px;top:21.30px;transform:scaleX(0.6714)">3</span>
<span id="t32" class="t a" style="left:26.50px;top:88.30px;transform:scaleX(0.6714)">2</span>
<span id="t33" class="t a" style="left:26.50px;top:155.30px;transform:scaleX(0.6714)">1</span>
<span id="t34" class="t a" style="left:26.50px;top:222.30px;transform:scaleX(0.6714)">0</span>
<span id="t35" class="t a" style="left:20.80px;top:289.30px;transform:scaleX(0.8000)">&#8722;1</span>
<span id="t36" class="t a" style="left:20.80px;top:356.30px;transform:scaleX(0.8000)">&#8722;2</span>
<span id="t37" class="t a" style="left:31.30px;top:367.50px;transform:scaleX(0.6714)">0</span>
<span id="t38" class="t a" style="left:105.96px;top:370.20px;transform:scaleX(0.7800)">2<span class="x">&#215;</span>10<sup>6</sup></span>
<span id="t39" class="t a" style="left:191.42px;top:370.20px;transform:scaleX(0.7800)">4<span class="x">&#215;</span>10<sup>6</sup></span>
<span id="t40" class="t a" style="left:276.88px;top:370.20px;transform:scaleX(0.7800)">6<span class="x">&#215;</span>10<sup>6</sup></span>
<span id="t41" class="t a" style="left:362.34px;top:370.20px;transform:scaleX(0.7800)">8<span class="x">&#215;</span>10<sup>6</sup></span>
<div id="yl" style="position:absolute;left:0;top:235.5px;width:90px;height:24px;transform-origin:0 0;transform:scaleX(0.78) rotate(-90deg);">
<span id="y0" class="t yy" style="font-size:12.3px;left:0.10px;top:4.60px;transform:scaleX(1.7500);"><i>f</i></span>
<span id="y1" class="t yy" style="font-size:9.6px;left:9.10px;top:0.56px;transform:scaleX(0.9368);-webkit-text-stroke:0.2px #000;">USR</span>
<span id="y2" class="t yy" style="font-size:10px;left:8.60px;top:9.32px;transform:scaleX(0.8250);-webkit-text-stroke:0.2px #000;">NL,</span>
<span id="y4" class="t yy" style="font-size:10.4px;left:22.60px;top:9.09px;transform:scaleX(1.0842);letter-spacing:0.3px;-webkit-text-stroke:0.3px #000;"><i class="pd2">&#8706;</i><span class="s2">2</span><i>&#950;</i><span class="pr3">(</span><i class="pd2">&#8706;</i><span class="s3">i</span><i>&#950;</i><span class="pr3">)</span><span class="s2">2</span></span>
<span id="y3" class="t yy" style="font-size:14.5px;left:66.00px;top:2.36px;transform:scaleX(1.0563);-webkit-text-stroke:0.2px #000;"><span class="pr2">(</span><i>k</i><span class="pr2">)</span></span>
</div>
</div>
</body></html>
